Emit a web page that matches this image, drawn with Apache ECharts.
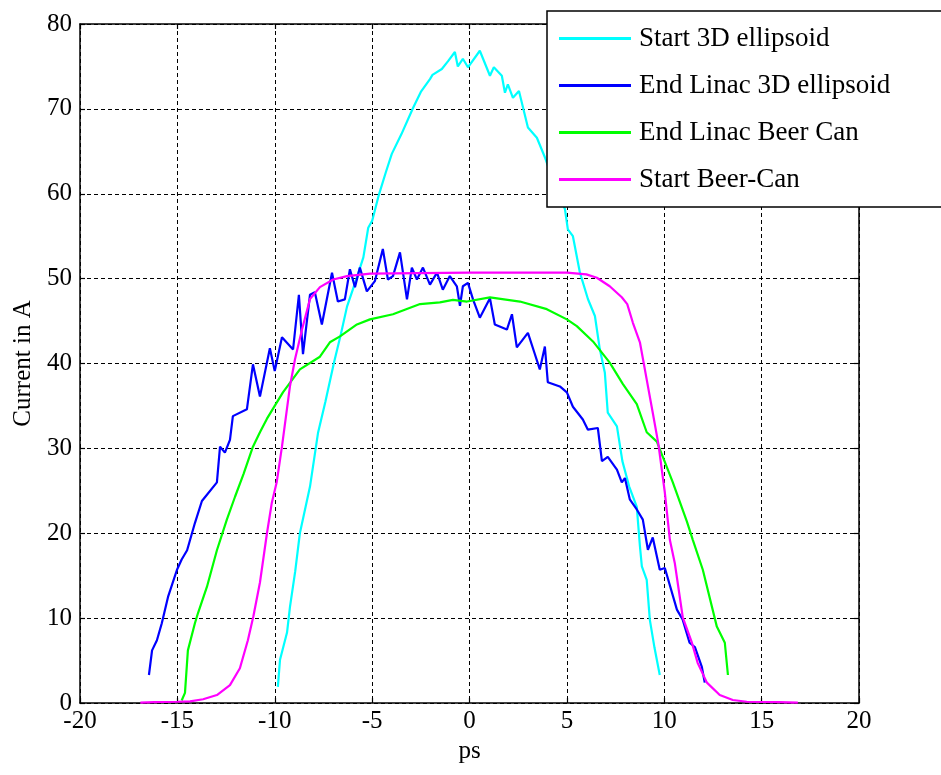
<!DOCTYPE html>
<html>
<head>
<meta charset="utf-8">
<script src="https://cdn.jsdelivr.net/npm/echarts@6/dist/echarts.min.js"></script>
<style>
html,body{margin:0;padding:0;background:#fff;}
#chart{width:941px;height:775px;}
</style>
</head>
<body>
<div id="chart"></div>
<script>
const seriesNames = ['Start 3D ellipsoid', 'End Linac 3D ellipsoid', 'End Linac Beer Can', 'Start Beer-Can'];
const xTicks = [-20, -15, -10, -5, 0, 5, 10, 15, 20];
const yTicks = [0, 10, 20, 30, 40, 50, 60, 70, 80];

const start3D = [[-9.84,1.9],[-9.73,5.1],[-9.37,8.3],[-9.22,11.3],[-8.95,15.5],[-8.71,20.0],[-8.19,25.5],[-7.78,31.8],[-7.4,35.5],[-6.96,40.1],[-6.6,43.5],[-6.29,46.7],[-5.8,50.0],[-5.45,52.5],[-5.2,56.0],[-5.0,56.8],[-4.65,59.9],[-4.3,62.5],[-3.99,64.7],[-3.5,67.0],[-2.9,70.1],[-2.5,72.0],[-2.03,73.5],[-1.9,74.0],[-1.42,74.7],[-1.11,75.6],[-0.75,76.7],[-0.6,75.0],[-0.34,75.9],[-0.08,74.9],[0.53,76.85],[1.05,73.9],[1.25,74.9],[1.66,73.9],[1.82,71.9],[1.97,72.9],[2.23,71.3],[2.54,72.1],[3.0,67.8],[3.46,66.6],[3.87,64.3],[4.3,61.5],[4.9,58.2],[5.05,55.8],[5.31,55.0],[5.67,50.7],[6.08,47.6],[6.44,45.6],[6.69,41.7],[6.95,38.9],[7.1,34.2],[7.57,32.6],[7.85,28.5],[8.2,25.5],[8.59,23.1],[8.75,18.5],[8.85,16.1],[9.1,14.5],[9.26,9.8],[9.5,6.5],[9.77,3.3]];

const endLinac3D = [[-16.46,3.3],[-16.3,6.2],[-16.05,7.4],[-15.8,9.4],[-15.48,12.5],[-15.02,15.7],[-14.78,16.9],[-14.5,18.0],[-14.1,21.2],[-13.74,23.8],[-12.97,26.0],[-12.81,30.2],[-12.56,29.5],[-12.3,31.0],[-12.15,33.8],[-11.43,34.6],[-11.12,39.9],[-10.76,36.1],[-10.25,41.8],[-10.0,39.1],[-9.63,43.1],[-9.06,41.65],[-8.76,48.1],[-8.55,41.1],[-8.19,48.1],[-7.94,48.4],[-7.58,44.6],[-7.06,50.7],[-6.76,47.3],[-6.4,47.55],[-6.14,51.1],[-5.88,49.0],[-5.63,51.3],[-5.27,48.5],[-4.86,49.7],[-4.45,53.5],[-4.19,49.9],[-3.93,50.3],[-3.57,53.1],[-3.21,47.55],[-2.96,51.3],[-2.7,49.9],[-2.39,51.3],[-2.03,49.3],[-1.67,50.7],[-1.37,48.7],[-1.01,50.3],[-0.65,49.1],[-0.49,46.8],[-0.34,49.1],[-0.08,49.5],[0.18,47.55],[0.53,45.4],[1.05,47.7],[1.3,44.6],[1.92,44.0],[2.18,45.8],[2.43,41.9],[3.0,43.6],[3.3,41.5],[3.61,39.3],[3.87,42.0],[4.02,37.8],[4.64,37.3],[5.0,36.6],[5.31,34.9],[5.82,33.4],[6.08,32.2],[6.59,32.4],[6.8,28.5],[7.1,29.0],[7.57,27.5],[7.82,26.0],[7.98,26.5],[8.23,24.0],[8.59,22.8],[8.9,21.6],[9.16,18.05],[9.41,19.5],[9.77,15.7],[10.03,15.9],[10.65,11.0],[10.95,9.8],[11.3,7.1],[11.57,6.6],[11.93,4.25],[12.08,2.4]];

const endLinacBeerCan = [[-14.78,0.3],[-14.61,1.2],[-14.46,6.2],[-14.1,9.4],[-13.94,10.6],[-13.48,13.7],[-12.97,18.0],[-12.46,21.6],[-12.04,24.3],[-11.6,27.0],[-11.12,30.2],[-10.76,31.9],[-10.4,33.5],[-9.58,36.6],[-8.71,39.3],[-7.68,40.8],[-7.17,42.5],[-6.65,43.2],[-5.78,44.6],[-5.11,45.2],[-3.93,45.8],[-2.54,47.0],[-1.52,47.2],[-0.85,47.5],[-0.13,47.3],[1.05,47.8],[2.59,47.3],[3.97,46.4],[5.0,45.2],[5.51,44.4],[6.34,42.6],[7.2,40.1],[7.87,37.6],[8.59,35.2],[9.1,31.9],[9.62,30.8],[10.44,26.0],[11.16,21.4],[11.47,19.2],[11.98,15.7],[12.7,9.0],[13.11,7.1],[13.27,3.3]];

const startBeerCan = [[-16.9,0.05],[-16.2,0.1],[-15.0,0.15],[-14.35,0.2],[-13.68,0.44],[-12.97,0.94],[-12.3,2.1],[-11.79,4.1],[-11.38,7.4],[-11.1,10.2],[-10.76,14.2],[-10.4,20.0],[-10.15,23.6],[-9.9,26.0],[-9.63,30.2],[-9.22,37.3],[-8.96,40.5],[-8.6,44.0],[-8.19,47.6],[-7.68,49.0],[-7.0,49.9],[-6.29,50.3],[-5.1,50.6],[0,50.7],[5.0,50.7],[6.0,50.5],[6.54,50.1],[7.2,49.1],[7.82,47.8],[8.1,47.0],[8.39,44.8],[8.75,42.5],[9.1,38.1],[9.41,34.2],[9.7,30.5],[10.03,24.8],[10.29,19.2],[10.54,16.5],[10.95,10.1],[11.42,7.1],[11.72,4.7],[12.19,2.4],[12.85,0.94],[13.52,0.35],[14.24,0.15],[15.9,0.1],[16.86,0.05]];

const seriesData = [start3D, endLinac3D, endLinacBeerCan, startBeerCan];
const colors = ['#00FFFF', '#0000FF', '#00FF00', '#FF00FF'];

const FONT = '"Liberation Serif", "Times New Roman", serif';
const chart = echarts.init(document.getElementById('chart'), null, {renderer: 'canvas'});

const gridLine = {show: true, lineStyle: {color: '#000', type: [4, 3], width: 1}};
const axisLineStyle = {show: true, onZero: false, lineStyle: {color: '#000', width: 1.5}};
const tickStyle = {show: true, inside: true, length: 5, lineStyle: {color: '#000', width: 1.2}};

chart.setOption({
  animation: false,
  backgroundColor: '#fff',
  color: colors,
  grid: {left: 80, right: 82, top: 24, bottom: 72, containLabel: false},
  legend: {
    data: seriesNames,
    orient: 'vertical',
    left: 554,
    top: 20,
    icon: 'rect',
    itemWidth: 72,
    itemHeight: 3,
    itemGap: 20,
    z: 30,
    textStyle: {fontFamily: FONT, fontSize: 27, color: '#000', lineHeight: 26, padding: [0, 0, 0, 3]}
  },
  graphic: [{
    type: 'rect', z: 20,
    shape: {x: 547, y: 11, width: 400, height: 196},
    style: {fill: '#fff', stroke: '#000', lineWidth: 1.5}
  }],
  xAxis: [{
    type: 'value', min: -20, max: 20, interval: 5,
    name: 'ps', nameLocation: 'middle', nameGap: 28,
    nameTextStyle: {fontFamily: FONT, fontSize: 25, color: '#000'},
    axisLine: axisLineStyle, axisTick: tickStyle, splitLine: gridLine,
    axisLabel: {fontFamily: FONT, fontSize: 25, color: '#000', margin: 6,
      formatter: v => xTicks.includes(v) ? String(v) : ''}
  }, {
    type: 'value', min: -20, max: 20, interval: 5, position: 'top',
    axisLine: axisLineStyle, axisTick: tickStyle, splitLine: {show: false}, axisLabel: {show: false}
  }],
  yAxis: [{
    type: 'value', min: 0, max: 80, interval: 10,
    name: 'Current in A', nameLocation: 'middle', nameGap: 40,
    nameTextStyle: {fontFamily: FONT, fontSize: 25, color: '#000'},
    axisLine: axisLineStyle, axisTick: tickStyle, splitLine: gridLine,
    axisLabel: {fontFamily: FONT, fontSize: 25, color: '#000', margin: 8,
      formatter: v => yTicks.includes(v) ? String(v) : ''}
  }, {
    type: 'value', min: 0, max: 80, interval: 10, position: 'right',
    axisLine: axisLineStyle, axisTick: tickStyle, splitLine: {show: false}, axisLabel: {show: false}
  }],
  series: seriesNames.map((n, i) => ({
    name: n, type: 'line', data: seriesData[i], xAxisIndex: 0, yAxisIndex: 0,
    showSymbol: false, symbol: 'none', z: 3,
    lineStyle: {color: colors[i], width: 2.2},
    itemStyle: {color: colors[i]}
  }))
});
</script>
</body>
</html>
